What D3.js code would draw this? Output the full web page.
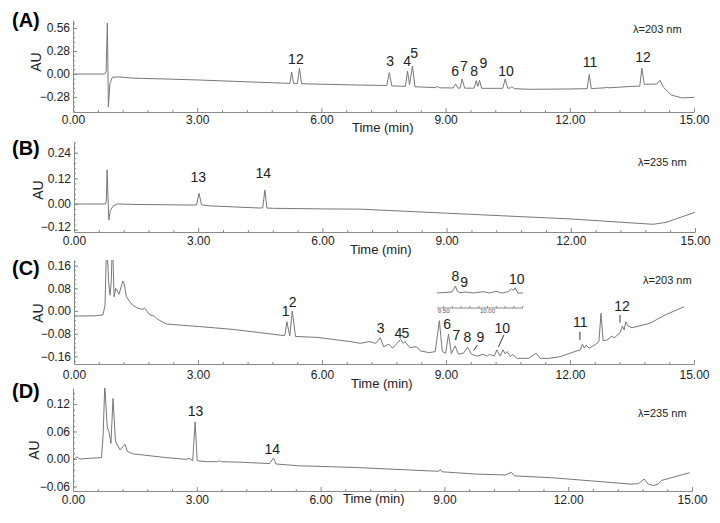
<!DOCTYPE html>
<html>
<head>
<meta charset="utf-8">
<script src="https://cdn.jsdelivr.net/npm/d3@7"></script>
<style>
  body { margin: 0; background: #fff; }
  svg { display: block; font-family: "Liberation Sans", Arial, sans-serif; }
</style>
</head>
<body>
<svg id="chart" width="720" height="523"></svg>
<script>
// tick values
const xTicks = [0, 3, 6, 9, 12, 15];
const yTicksA = [-0.28, 0, 0.28, 0.56];
const yTicksB = [-0.12, 0, 0.12, 0.24];
const yTicksC = [-0.16, -0.08, 0, 0.08, 0.16];
const yTicksD = [-0.06, 0, 0.06, 0.12];

// traces [time (min), AU]
const traceA = [[0,0],[0.76,0],[0.8,0.03],[0.83,0.62],[0.855,-0.4],[0.89,-0.12],[0.95,-0.04],[1.1,-0.035],
  [1.45,-0.05],[2.2,-0.06],[3.05,-0.073],[4.2,-0.095],[5.2,-0.113],[5.24,-0.115],[5.28,0.024],[5.33,-0.115],
  [5.42,-0.117],[5.47,0.07],[5.52,-0.118],[5.65,-0.12],[6.9,-0.134],[7.58,-0.14],[7.64,0.016],[7.7,-0.145],
  [8.03,-0.15],[8.08,0.033],[8.13,-0.13],[8.2,0.097],[8.26,-0.155],[8.4,-0.158],[8.75,-0.165],[8.8,-0.152],
  [8.86,-0.168],[9.18,-0.17],[9.24,-0.12],[9.3,-0.172],[9.35,-0.172],[9.4,-0.06],[9.46,-0.172],[9.69,-0.172],
  [9.74,-0.08],[9.78,-0.15],[9.82,-0.077],[9.87,-0.174],[10.38,-0.174],[10.44,-0.06],[10.5,-0.172],
  [10.56,-0.17],[10.6,-0.155],[10.66,-0.178],[11,-0.186],[12,-0.182],[12.42,-0.178],[12.47,-0.004],
  [12.52,-0.178],[12.6,-0.175],[12.85,-0.168],[12.9,-0.16],[12.95,-0.168],[13.5,-0.15],[13.69,-0.148],
  [13.74,0.07],[13.8,-0.125],[14.1,-0.122],[14.18,-0.075],[14.26,-0.16],[14.45,-0.255],[14.7,-0.29],[15,-0.285]];

const traceB = [[0,0],[0.76,0],[0.78,0.01],[0.8,0.16],[0.84,-0.075],[0.88,-0.03],[0.95,-0.008],[1.05,0],
  [1.5,-0.002],[2.9,-0.005],[2.96,-0.004],[3.02,0.05],[3.08,-0.004],[3.3,-0.009],[4.5,-0.019],[4.56,-0.017],
  [4.61,0.065],[4.66,-0.019],[4.8,-0.02],[6,-0.023],[6.9,-0.024],[9,-0.043],[12,-0.07],[13.99,-0.095],
  [14.3,-0.086],[15,-0.039]];

const traceC = [[0,-0.018],[0.5,-0.017],[0.7,-0.014],[0.75,0.02],[0.79,0.25],[0.84,0.1],[0.87,0.056],
  [0.9,0.1],[0.93,0.25],[0.97,0.05],[1.01,0.08],[1.09,0.059],[1.18,0.106],[1.21,0.098],[1.27,0.05],
  [1.35,0.033],[1.43,0.019],[1.55,0.01],[1.65,0.006],[1.71,0.01],[1.77,-0.002],[1.84,-0.014],[1.94,-0.018],
  [2,-0.026],[2.08,-0.034],[2.24,-0.046],[3.04,-0.055],[3.85,-0.065],[4.65,-0.079],[5.1,-0.087],
  [5.15,-0.038],[5.22,-0.088],[5.28,0],[5.36,-0.09],[5.88,-0.093],[6.69,-0.108],[6.93,-0.114],[7.15,-0.108],
  [7.3,-0.114],[7.41,-0.094],[7.49,-0.126],[7.62,-0.117],[7.71,-0.131],[7.9,-0.1],[7.97,-0.114],
  [8.01,-0.108],[8.12,-0.129],[8.29,-0.126],[8.38,-0.141],[8.6,-0.147],[8.74,-0.143],[8.84,-0.034],
  [8.91,-0.143],[8.99,-0.149],[9.06,-0.082],[9.13,-0.15],[9.22,-0.123],[9.3,-0.152],[9.42,-0.149],
  [9.52,-0.128],[9.62,-0.153],[9.74,-0.159],[9.9,-0.153],[10,-0.159],[10.05,-0.153],[10.17,-0.159],
  [10.23,-0.137],[10.31,-0.159],[10.38,-0.137],[10.43,-0.151],[10.48,-0.143],[10.56,-0.161],[10.61,-0.153],
  [10.72,-0.167],[11,-0.167],[11.18,-0.149],[11.28,-0.167],[11.5,-0.167],[11.76,-0.161],[12.12,-0.143],
  [12.25,-0.137],[12.3,-0.117],[12.35,-0.131],[12.39,-0.12],[12.46,-0.131],[12.6,-0.12],[12.7,-0.108],
  [12.75,-0.008],[12.8,-0.105],[12.9,-0.102],[13.02,-0.088],[13.07,-0.096],[13.14,-0.085],[13.21,-0.077],
  [13.27,-0.053],[13.31,-0.067],[13.35,-0.038],[13.4,-0.053],[13.5,-0.059],[13.94,-0.043],[14.3,-0.014],
  [14.76,0.015]];

const traceD = [[0,0],[0.05,0.001],[0.09,0.005],[0.14,0.001],[0.17,0],[0.69,0.003],[0.73,0.052],[0.77,0.16],
  [0.83,0.07],[0.87,0.06],[0.92,0.034],[0.97,0.132],[1.03,0.038],[1.14,0.02],[1.26,0.032],[1.32,0.016],
  [1.46,0.011],[2.26,0.003],[2.75,-0.001],[2.81,0.0015],[2.9,-0.004],[2.96,0.081],[3.01,-0.004],
  [3.23,-0.006],[3.5,-0.006],[3.55,-0.004],[3.6,-0.006],[4.03,-0.007],[4.76,-0.01],[4.86,0.002],
  [4.92,-0.011],[5.48,-0.015],[6.29,-0.017],[6.93,-0.019],[8.14,-0.024],[8.86,-0.027],[8.9,-0.023],
  [8.94,-0.028],[9.75,-0.033],[10.48,-0.035],[10.62,-0.029],[10.7,-0.037],[11.6,-0.041],[12.57,-0.048],
  [13.53,-0.055],[13.7,-0.054],[13.84,-0.044],[13.94,-0.055],[14.06,-0.058],[14.18,-0.055],[14.26,-0.047],
  [14.94,-0.03]];

// zoomed inset of panel C (9.4 - 10.4 min)
const insetTrace = [[9.43,0],[9.6,0.001],[9.64,0.007],[9.66,0.002],[9.69,0.0003],[9.76,0.001],[9.84,0],
  [9.96,0.0013],[10.03,0],[10.1,0.0017],[10.17,0],[10.24,0.0013],[10.28,0.004],[10.3,0.0027],
  [10.32,0.0053],[10.35,0],[10.41,0]];
const insetTicks = [9.5, 9.6, 9.7, 9.8, 9.9, 10.0, 10.1, 10.2, 10.3, 10.4];
const insetTickLabels = [9.5, 10.0];

// peak labels [text, time, AU]
const labelsA = [["1",5.29,0.18],["2",5.48,0.18],["3",7.66,0.16],["4",8.07,0.16],["5",8.24,0.255],
  ["6",9.23,0.036],["7",9.44,0.097],["8",9.69,0.036],["9",9.91,0.134],["10",10.46,0.036],
  ["11",12.49,0.146],["12",13.77,0.207]];
const labelsB = [["13",3.0,0.126],["14",4.57,0.145]];
const labelsC = [["1",5.12,0],["2",5.29,0.032],["3",7.42,-0.06],["4",7.85,-0.078],["5",8.02,-0.078],
  ["6",9.03,-0.046],["7",9.25,-0.085],["8",9.52,-0.092],["9",9.83,-0.092],["10",10.36,-0.06],
  ["11",12.25,-0.039],["12",13.26,0.018]];
const labelsD = [["13",2.97,0.105],["14",4.83,0.022]];
const insetLabels = [["8",9.64,0.017],["9",9.74,0.011],["10",10.34,0.014]];
const leadersC = [[9.76,-0.12,9.67,-0.139],[10.4,-0.085,10.27,-0.126],[12.24,-0.073,12.24,-0.102],
  [13.21,-0.014,13.21,-0.041]];

const panels = [
  { name: "(A)", nameY: 27, trace: traceA, labels: labelsA, leaders: [], yTicks: yTicksA, yStep: 0.056,
    left: 73, right: 694, top: 20, bottom: 112, yDomain: [-0.462, 0.657], xPad: 3,
    lambda: "\u03bb=203 nm", lamX: 633, lamY: 33, timeX: 352, timeY: 132, auX: 36, auY: 62 },
  { name: "(B)", nameY: 155, trace: traceB, labels: labelsB, leaders: [], yTicks: yTicksB, yStep: 0.024,
    left: 74, right: 695, top: 142, bottom: 232, yDomain: [-0.131, 0.29], xPad: 4,
    lambda: "\u03bb=235 nm", lamX: 638, lamY: 166, timeX: 350, timeY: 254, auX: 38, auY: 190 },
  { name: "(C)", nameY: 275, trace: traceC, labels: labelsC, leaders: leadersC, yTicks: yTicksC, yStep: 0.016,
    left: 74, right: 694, top: 260, bottom: 364, yDomain: [-0.187, 0.18], xPad: 6,
    lambda: "\u03bb=203 nm", lamX: 643, lamY: 284, timeX: 351, timeY: 388, auX: 38, auY: 313 },
  { name: "(D)", nameY: 398, trace: traceD, labels: labelsD, leaders: [], yTicks: yTicksD, yStep: 0.012,
    left: 73, right: 692, top: 388, bottom: 491, yDomain: [-0.07, 0.155], xPad: 4,
    lambda: "\u03bb=235 nm", lamX: 638, lamY: 417, timeX: 343, timeY: 503, auX: 34, auY: 450 }
];

const svg = d3.select("#chart");
svg.append("rect").attr("width", 720).attr("height", 523).attr("fill", "#fff");

const traceColor = "#787878";
const axisColor = "#8a8a8a";
const textColor = "#222";
const fmt = d3.format(".2f");

panels.forEach((p, pi) => {
  const x = d3.scaleLinear().domain([0, 15]).range([p.left, p.right]);
  const y = d3.scaleLinear().domain(p.yDomain).range([p.bottom, p.top]);

  // minor ticks
  const xMinor = d3.range(0, 26).filter(i => i % 5 !== 0).map(i => i * 0.6);
  svg.append("g")
    .attr("transform", `translate(0,${p.bottom})`)
    .call(d3.axisBottom(x).tickValues(xMinor).tickSize(-2).tickFormat(""))
    .call(g => g.select(".domain").remove())
    .selectAll("line").attr("stroke", axisColor);

  const k0 = Math.ceil(p.yDomain[0] / p.yStep), k1 = Math.floor(p.yDomain[1] / p.yStep);
  const yMinor = d3.range(k0, k1 + 1).map(k => k * p.yStep);
  svg.append("g")
    .attr("transform", `translate(${p.left},0)`)
    .call(d3.axisLeft(y).tickValues(yMinor).tickSize(-2).tickFormat(""))
    .call(g => g.select(".domain").remove())
    .selectAll("line").attr("stroke", axisColor);

  // major axes
  const gx = svg.append("g")
    .attr("transform", `translate(0,${p.bottom})`)
    .call(d3.axisBottom(x).tickValues(xTicks).tickFormat(fmt).tickSizeInner(-4).tickSizeOuter(0).tickPadding(p.xPad));
  gx.select(".domain").attr("stroke", axisColor);
  gx.selectAll(".tick line").attr("stroke", axisColor);
  gx.selectAll("text").attr("fill", textColor).style("font-size", "12px")
    .attr("font-family", "Liberation Sans, Arial, sans-serif");

  const gy = svg.append("g")
    .attr("transform", `translate(${p.left},0)`)
    .call(d3.axisLeft(y).tickValues(p.yTicks).tickFormat(fmt).tickSizeInner(-4).tickSizeOuter(0).tickPadding(3));
  gy.select(".domain").attr("stroke", axisColor);
  gy.selectAll(".tick line").attr("stroke", axisColor);
  gy.selectAll("text").attr("fill", textColor).style("font-size", "12px")
    .attr("font-family", "Liberation Sans, Arial, sans-serif");
  if (pi === 1) gy.selectAll(".tick text").filter(d => d < 0).attr("dy", "0.1em");

  // trace
  const clipId = "clip" + pi;
  svg.append("clipPath").attr("id", clipId)
    .append("rect")
    .attr("x", p.left).attr("y", p.top)
    .attr("width", p.right - p.left).attr("height", p.bottom - p.top);

  const line = d3.line().x(d => x(d[0])).y(d => y(d[1]));
  svg.append("path")
    .datum(p.trace)
    .attr("clip-path", `url(#${clipId})`)
    .attr("fill", "none")
    .attr("stroke", traceColor)
    .attr("stroke-width", 1)
    .attr("stroke-linejoin", "round")
    .attr("d", line);

  // peak numbers
  svg.append("g").selectAll("text")
    .data(p.labels)
    .enter()
    .append("text")
    .attr("x", d => x(d[1]))
    .attr("y", d => y(d[2]))
    .attr("text-anchor", "middle")
    .attr("dominant-baseline", "central")
    .attr("fill", textColor)
    .style("font-size", "14px")
    .text(d => d[0]);

  svg.append("g").selectAll("line")
    .data(p.leaders)
    .enter()
    .append("line")
    .attr("x1", d => x(d[0])).attr("y1", d => y(d[1]))
    .attr("x2", d => x(d[2])).attr("y2", d => y(d[3]))
    .attr("stroke", "#333")
    .attr("stroke-width", 1);

  // panel texts
  svg.append("text")
    .attr("x", 12).attr("y", p.nameY)
    .attr("fill", "#000")
    .style("font-size", "20px").style("font-weight", "bold")
    .text(p.name);

  svg.append("text")
    .attr("x", p.lamX).attr("y", p.lamY)
    .attr("fill", textColor)
    .style("font-size", "11px")
    .text(p.lambda);

  svg.append("text")
    .attr("x", p.timeX).attr("y", p.timeY)
    .attr("fill", textColor)
    .style("font-size", "13px")
    .text("Time (min)");

  svg.append("text")
    .attr("transform", `translate(${p.auX},${p.auY}) rotate(-90)`)
    .attr("text-anchor", "middle")
    .attr("dominant-baseline", "central")
    .attr("fill", textColor)
    .style("font-size", "14px")
    .text("AU");
});

// inset in panel C
const ix = d3.scaleLinear().domain([9.43, 10.41]).range([437, 523]);
const iy = d3.scaleLinear().domain([-0.007, 0.013]).range([300, 280]);

svg.append("path")
  .datum(insetTrace)
  .attr("fill", "none")
  .attr("stroke", traceColor)
  .attr("stroke-width", 1)
  .attr("d", d3.line().x(d => ix(d[0])).y(d => iy(d[1])));

const gi = svg.append("g")
  .attr("transform", "translate(0,308)")
  .call(d3.axisBottom(ix).tickValues(insetTicks)
    .tickFormat(d => insetTickLabels.includes(d) ? fmt(d) : "")
    .tickSizeInner(-2).tickSizeOuter(0).tickPadding(1));
gi.select(".domain").attr("stroke", axisColor).attr("d", `M${ix.range()[0]},0H${ix.range()[1]}`);
gi.selectAll(".tick line").attr("stroke", axisColor);
gi.selectAll("text").attr("fill", "#555").style("font-size", "6px");

svg.append("g").selectAll("text")
  .data(insetLabels)
  .enter()
  .append("text")
  .attr("x", d => ix(d[1]))
  .attr("y", d => iy(d[2]))
  .attr("text-anchor", "middle")
  .attr("dominant-baseline", "central")
  .attr("fill", textColor)
  .style("font-size", "14px")
  .text(d => d[0]);
</script>
</body>
</html>
